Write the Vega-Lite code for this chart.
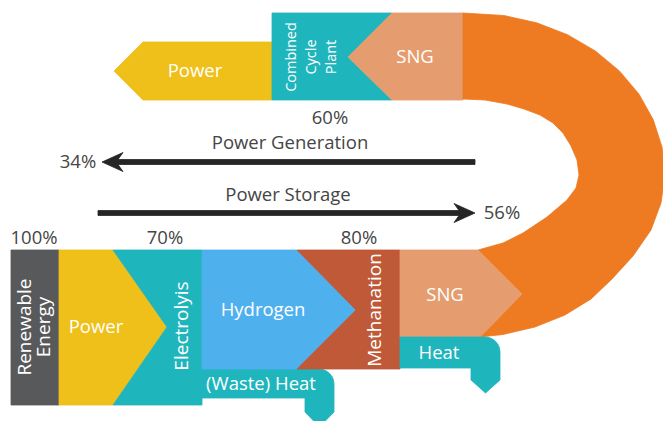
{
  "$schema": "https://vega.github.io/schema/vega-lite/v6.json",
  "width": 663,
  "height": 421,
  "padding": 0,
  "autosize": {"type": "none"},
  "config": {"view": {"stroke": null}, "background": "#ffffff"},
  "datasets": {
    "shapes": [
      {"shape": "power_top", "part": "power", "i": 0, "x": 272, "y": 42},
      {"shape": "power_top", "part": "power", "i": 1, "x": 143, "y": 42},
      {"shape": "power_top", "part": "power", "i": 2, "x": 114, "y": 71},
      {"shape": "power_top", "part": "power", "i": 3, "x": 143, "y": 100},
      {"shape": "power_top", "part": "power", "i": 4, "x": 272, "y": 100},

      {"shape": "ccp", "part": "plant", "i": 0, "x": 272, "y": 13},
      {"shape": "ccp", "part": "plant", "i": 1, "x": 392, "y": 13},
      {"shape": "ccp", "part": "plant", "i": 2, "x": 348, "y": 57},
      {"shape": "ccp", "part": "plant", "i": 3, "x": 392, "y": 100},
      {"shape": "ccp", "part": "plant", "i": 4, "x": 272, "y": 100},

      {"shape": "sng_top", "part": "sng", "i": 0, "x": 392, "y": 13},
      {"shape": "sng_top", "part": "sng", "i": 1, "x": 463, "y": 13},
      {"shape": "sng_top", "part": "sng", "i": 2, "x": 463, "y": 100},
      {"shape": "sng_top", "part": "sng", "i": 3, "x": 392, "y": 100},
      {"shape": "sng_top", "part": "sng", "i": 4, "x": 348, "y": 57},

      {"shape": "ring", "part": "storage", "i": 0, "x": 463, "y": 13},
      {"shape": "ring", "part": "storage", "i": 1, "x": 503.9, "y": 15.5},
      {"shape": "ring", "part": "storage", "i": 2, "x": 536.7, "y": 22.8},
      {"shape": "ring", "part": "storage", "i": 3, "x": 567.5, "y": 34.7},
      {"shape": "ring", "part": "storage", "i": 4, "x": 595.3, "y": 50.9},
      {"shape": "ring", "part": "storage", "i": 5, "x": 619.4, "y": 70.9},
      {"shape": "ring", "part": "storage", "i": 6, "x": 638.9, "y": 94},
      {"shape": "ring", "part": "storage", "i": 7, "x": 653.2, "y": 119.6},
      {"shape": "ring", "part": "storage", "i": 8, "x": 662, "y": 146.9},
      {"shape": "ring", "part": "storage", "i": 9, "x": 665, "y": 175},
      {"shape": "ring", "part": "storage", "i": 10, "x": 661, "y": 203},
      {"shape": "ring", "part": "storage", "i": 11, "x": 651, "y": 230},
      {"shape": "ring", "part": "storage", "i": 12, "x": 633, "y": 256},
      {"shape": "ring", "part": "storage", "i": 13, "x": 612, "y": 279},
      {"shape": "ring", "part": "storage", "i": 14, "x": 591, "y": 299},
      {"shape": "ring", "part": "storage", "i": 15, "x": 565, "y": 315},
      {"shape": "ring", "part": "storage", "i": 16, "x": 535, "y": 327},
      {"shape": "ring", "part": "storage", "i": 17, "x": 503, "y": 334.5},
      {"shape": "ring", "part": "storage", "i": 18, "x": 480, "y": 337},
      {"shape": "ring", "part": "storage", "i": 19, "x": 522, "y": 294},
      {"shape": "ring", "part": "storage", "i": 20, "x": 478, "y": 250},
      {"shape": "ring", "part": "storage", "i": 21, "x": 503, "y": 243},
      {"shape": "ring", "part": "storage", "i": 22, "x": 523, "y": 233},
      {"shape": "ring", "part": "storage", "i": 23, "x": 547, "y": 217},
      {"shape": "ring", "part": "storage", "i": 24, "x": 567, "y": 200},
      {"shape": "ring", "part": "storage", "i": 25, "x": 576, "y": 188},
      {"shape": "ring", "part": "storage", "i": 26, "x": 579, "y": 175},
      {"shape": "ring", "part": "storage", "i": 27, "x": 577, "y": 160},
      {"shape": "ring", "part": "storage", "i": 28, "x": 571, "y": 146},
      {"shape": "ring", "part": "storage", "i": 29, "x": 563, "y": 133},
      {"shape": "ring", "part": "storage", "i": 30, "x": 553, "y": 123},
      {"shape": "ring", "part": "storage", "i": 31, "x": 540, "y": 115},
      {"shape": "ring", "part": "storage", "i": 32, "x": 524, "y": 109},
      {"shape": "ring", "part": "storage", "i": 33, "x": 507, "y": 104},
      {"shape": "ring", "part": "storage", "i": 34, "x": 485, "y": 100},
      {"shape": "ring", "part": "storage", "i": 35, "x": 463, "y": 99},

      {"shape": "renewable", "part": "renewable", "i": 0, "x": 11, "y": 250},
      {"shape": "renewable", "part": "renewable", "i": 1, "x": 59, "y": 250},
      {"shape": "renewable", "part": "renewable", "i": 2, "x": 59, "y": 405},
      {"shape": "renewable", "part": "renewable", "i": 3, "x": 11, "y": 405},

      {"shape": "power_bot", "part": "power", "i": 0, "x": 59, "y": 250},
      {"shape": "power_bot", "part": "power", "i": 1, "x": 113, "y": 250},
      {"shape": "power_bot", "part": "power", "i": 2, "x": 167, "y": 327},
      {"shape": "power_bot", "part": "power", "i": 3, "x": 113, "y": 405},
      {"shape": "power_bot", "part": "power", "i": 4, "x": 59, "y": 405},

      {"shape": "electrolysis", "part": "plant", "i": 0, "x": 113, "y": 250},
      {"shape": "electrolysis", "part": "plant", "i": 1, "x": 202, "y": 250},
      {"shape": "electrolysis", "part": "plant", "i": 2, "x": 202, "y": 369},
      {"shape": "electrolysis", "part": "plant", "i": 3, "x": 319, "y": 369},
      {"shape": "electrolysis", "part": "plant", "i": 4, "x": 322.9, "y": 369.5},
      {"shape": "electrolysis", "part": "plant", "i": 5, "x": 326.5, "y": 371},
      {"shape": "electrolysis", "part": "plant", "i": 6, "x": 329.6, "y": 373.4},
      {"shape": "electrolysis", "part": "plant", "i": 7, "x": 332, "y": 376.5},
      {"shape": "electrolysis", "part": "plant", "i": 8, "x": 333.5, "y": 380.1},
      {"shape": "electrolysis", "part": "plant", "i": 9, "x": 334, "y": 384},
      {"shape": "electrolysis", "part": "plant", "i": 10, "x": 334, "y": 412},
      {"shape": "electrolysis", "part": "plant", "i": 11, "x": 319.5, "y": 427},
      {"shape": "electrolysis", "part": "plant", "i": 12, "x": 305, "y": 412},
      {"shape": "electrolysis", "part": "plant", "i": 13, "x": 305, "y": 398},
      {"shape": "electrolysis", "part": "plant", "i": 14, "x": 202, "y": 398},
      {"shape": "electrolysis", "part": "plant", "i": 15, "x": 202, "y": 405},
      {"shape": "electrolysis", "part": "plant", "i": 16, "x": 113, "y": 405},
      {"shape": "electrolysis", "part": "plant", "i": 17, "x": 167, "y": 327},

      {"shape": "hydrogen", "part": "hydrogen", "i": 0, "x": 202, "y": 250},
      {"shape": "hydrogen", "part": "hydrogen", "i": 1, "x": 297, "y": 250},
      {"shape": "hydrogen", "part": "hydrogen", "i": 2, "x": 356, "y": 310},
      {"shape": "hydrogen", "part": "hydrogen", "i": 3, "x": 297, "y": 369},
      {"shape": "hydrogen", "part": "hydrogen", "i": 4, "x": 202, "y": 369},

      {"shape": "methanation", "part": "methanation", "i": 0, "x": 297, "y": 250},
      {"shape": "methanation", "part": "methanation", "i": 1, "x": 400, "y": 250},
      {"shape": "methanation", "part": "methanation", "i": 2, "x": 400, "y": 369},
      {"shape": "methanation", "part": "methanation", "i": 3, "x": 297, "y": 369},
      {"shape": "methanation", "part": "methanation", "i": 4, "x": 356, "y": 310},

      {"shape": "sng_bot", "part": "sng", "i": 0, "x": 400, "y": 250},
      {"shape": "sng_bot", "part": "sng", "i": 1, "x": 478, "y": 250},
      {"shape": "sng_bot", "part": "sng", "i": 2, "x": 522, "y": 294},
      {"shape": "sng_bot", "part": "sng", "i": 3, "x": 480, "y": 337},
      {"shape": "sng_bot", "part": "sng", "i": 4, "x": 400, "y": 337},

      {"shape": "heat", "part": "plant", "i": 0, "x": 400, "y": 337},
      {"shape": "heat", "part": "plant", "i": 1, "x": 485, "y": 337},
      {"shape": "heat", "part": "plant", "i": 2, "x": 488.9, "y": 337.5},
      {"shape": "heat", "part": "plant", "i": 3, "x": 492.5, "y": 339},
      {"shape": "heat", "part": "plant", "i": 4, "x": 495.6, "y": 341.4},
      {"shape": "heat", "part": "plant", "i": 5, "x": 498, "y": 344.5},
      {"shape": "heat", "part": "plant", "i": 6, "x": 499.5, "y": 348.1},
      {"shape": "heat", "part": "plant", "i": 7, "x": 500, "y": 352},
      {"shape": "heat", "part": "plant", "i": 8, "x": 500, "y": 380},
      {"shape": "heat", "part": "plant", "i": 9, "x": 485.5, "y": 393},
      {"shape": "heat", "part": "plant", "i": 10, "x": 471, "y": 380},
      {"shape": "heat", "part": "plant", "i": 11, "x": 471, "y": 368},
      {"shape": "heat", "part": "plant", "i": 12, "x": 400, "y": 368},

      {"shape": "arrow_gen", "part": "arrow", "i": 0, "x": 102, "y": 162},
      {"shape": "arrow_gen", "part": "arrow", "i": 1, "x": 123, "y": 152.5},
      {"shape": "arrow_gen", "part": "arrow", "i": 2, "x": 118, "y": 159.5},
      {"shape": "arrow_gen", "part": "arrow", "i": 3, "x": 475, "y": 159.5},
      {"shape": "arrow_gen", "part": "arrow", "i": 4, "x": 475, "y": 164.5},
      {"shape": "arrow_gen", "part": "arrow", "i": 5, "x": 118, "y": 164.5},
      {"shape": "arrow_gen", "part": "arrow", "i": 6, "x": 123, "y": 171.5},

      {"shape": "arrow_sto", "part": "arrow", "i": 0, "x": 475, "y": 213},
      {"shape": "arrow_sto", "part": "arrow", "i": 1, "x": 454, "y": 203.5},
      {"shape": "arrow_sto", "part": "arrow", "i": 2, "x": 459, "y": 210.5},
      {"shape": "arrow_sto", "part": "arrow", "i": 3, "x": 98, "y": 210.5},
      {"shape": "arrow_sto", "part": "arrow", "i": 4, "x": 98, "y": 215.5},
      {"shape": "arrow_sto", "part": "arrow", "i": 5, "x": 459, "y": 215.5},
      {"shape": "arrow_sto", "part": "arrow", "i": 6, "x": 454, "y": 222.5}
    ]
  },
  "layer": [
    {
      "data": {"name": "shapes"},
      "mark": {"type": "line", "interpolate": "linear-closed", "strokeWidth": 0.8, "clip": true},
      "encoding": {
        "x": {"field": "x", "type": "quantitative", "scale": {"domain": [0, 663], "nice": false, "zero": false}, "axis": null},
        "y": {"field": "y", "type": "quantitative", "scale": {"domain": [0, 421], "nice": false, "zero": false, "reverse": true}, "axis": null},
        "order": {"field": "i", "type": "quantitative"},
        "detail": {"field": "shape", "type": "nominal"},
        "color": {"field": "part", "type": "nominal", "legend": null,
          "scale": {"domain": ["renewable", "power", "plant", "hydrogen", "methanation", "sng", "storage", "arrow"],
                    "range": ["#58595b", "#efbf1a", "#1fb5bd", "#4fb0ee", "#bf5937", "#e59d6f", "#ee7a22", "#252525"]}},
        "fill": {"field": "part", "type": "nominal", "legend": null,
          "scale": {"domain": ["renewable", "power", "plant", "hydrogen", "methanation", "sng", "storage", "arrow"],
                    "range": ["#58595b", "#efbf1a", "#1fb5bd", "#4fb0ee", "#bf5937", "#e59d6f", "#ee7a22", "#252525"]}}
      }
    },
    {
      "data": {"values": [
        {"text": "60%", "x": 330, "y": 118},
        {"text": "Power Generation", "x": 290, "y": 143},
        {"text": "Power Storage", "x": 288, "y": 195},
        {"text": "34%", "x": 78, "y": 162},
        {"text": "56%", "x": 502, "y": 213},
        {"text": "100%", "x": 34, "y": 238},
        {"text": "70%", "x": 165, "y": 238},
        {"text": "80%", "x": 359, "y": 238}
      ]},
      "mark": {"type": "text", "font": "Open Sans", "fontSize": 18.5, "color": "#454545", "align": "center", "baseline": "middle"},
      "encoding": {
        "x": {"field": "x", "type": "quantitative"},
        "y": {"field": "y", "type": "quantitative"},
        "text": {"field": "text"}
      }
    },
    {
      "data": {"values": [
        {"text": "Power", "x": 195, "y": 71},
        {"text": "SNG", "x": 415, "y": 57},
        {"text": "Power", "x": 96, "y": 327},
        {"text": "Hydrogen", "x": 263, "y": 310},
        {"text": "SNG", "x": 445, "y": 295},
        {"text": "Heat", "x": 439, "y": 353},
        {"text": "(Waste) Heat", "x": 261, "y": 384}
      ]},
      "mark": {"type": "text", "font": "Open Sans", "fontSize": 18.5, "color": "#ffffff", "align": "center", "baseline": "middle"},
      "encoding": {
        "x": {"field": "x", "type": "quantitative"},
        "y": {"field": "y", "type": "quantitative"},
        "text": {"field": "text"}
      }
    },
    {
      "data": {"values": [
        {"text": "Renewable", "x": 25, "y": 327},
        {"text": "Energy", "x": 44, "y": 327},
        {"text": "Electrolyis", "x": 182, "y": 326},
        {"text": "Methanation", "x": 375, "y": 310}
      ]},
      "mark": {"type": "text", "font": "Open Sans", "fontSize": 19, "color": "#ffffff", "align": "center", "baseline": "middle", "angle": 270},
      "encoding": {
        "x": {"field": "x", "type": "quantitative"},
        "y": {"field": "y", "type": "quantitative"},
        "text": {"field": "text"}
      }
    },
    {
      "data": {"values": [
        {"text": "Combined", "x": 292, "y": 57},
        {"text": "Cycle", "x": 312, "y": 57},
        {"text": "Plant", "x": 332, "y": 57}
      ]},
      "mark": {"type": "text", "font": "Open Sans", "fontSize": 14.5, "color": "#ffffff", "align": "center", "baseline": "middle", "angle": 270},
      "encoding": {
        "x": {"field": "x", "type": "quantitative"},
        "y": {"field": "y", "type": "quantitative"},
        "text": {"field": "text"}
      }
    }
  ]
}
